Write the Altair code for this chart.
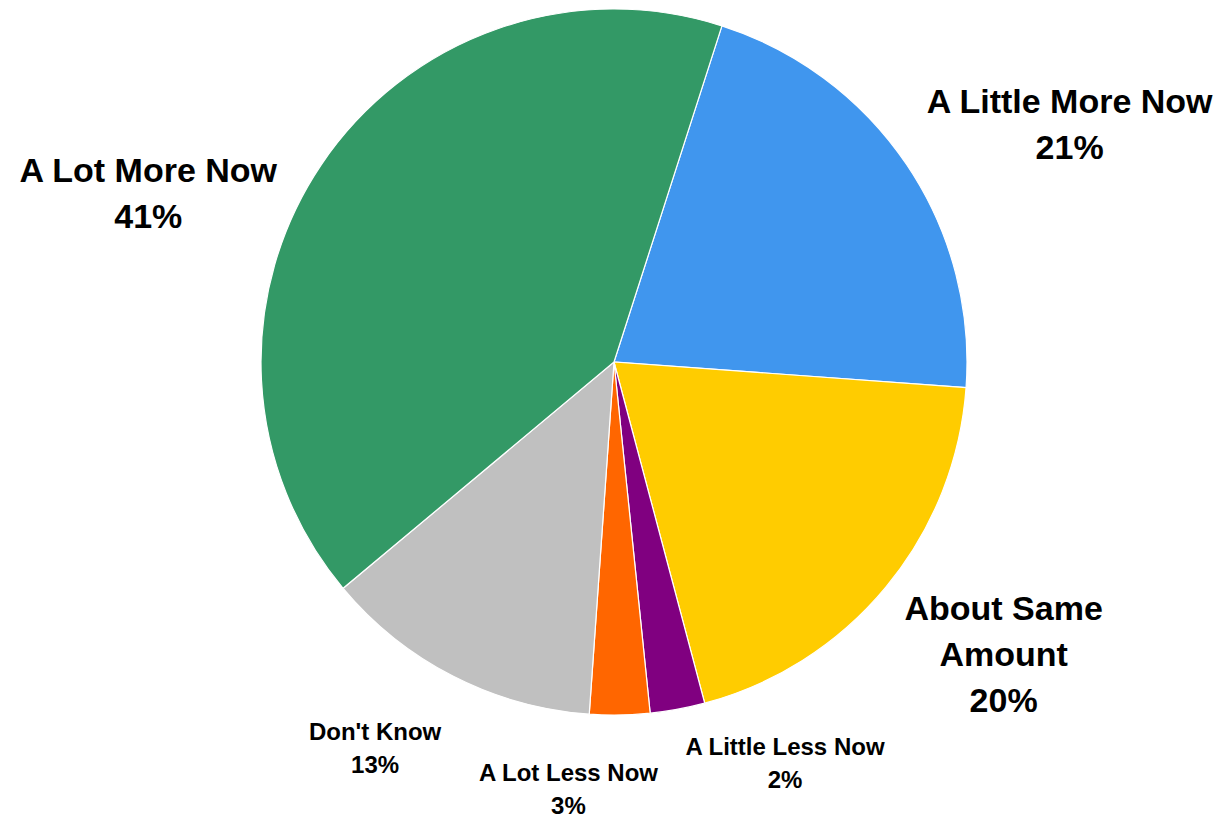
import math
import altair as alt
import pandas as pd

categories = ["A Little More Now", "About Same Amount", "A Little Less Now",
              "A Lot Less Now", "Don't Know", "A Lot More Now"]
values = [21.2, 19.7, 2.5, 2.75, 12.8, 41.0]
pct_labels = ["21%", "20%", "2%", "3%", "13%", "41%"]
colors = ["#4096EE", "#FFCC00", "#800080", "#FF6600", "#C0C0C0", "#339966"]
label_text = ["A Little More Now\n21%", "About Same\nAmount\n20%", "A Little Less Now\n2%",
              "A Lot Less Now\n3%", "Don't Know\n13%", "A Lot More Now\n41%"]
# label layout (first-line anchor: angle in degrees clockwise from top, distance from centre in px)
label_angle = [60.4, 122.5, 156.1, 186.3, 212.8, 292.2]
label_dist = [524, 462, 422, 415, 441, 503]
label_big = [True, True, False, False, False, True]

start = math.radians(17.8)

df = pd.DataFrame({
    "cat": categories,
    "value": values,
    "idx": list(range(len(categories))),
    "text": label_text,
    "lab_angle": label_angle,
    "lab_r": label_dist,
    "big": label_big,
})

pie = alt.Chart(df).mark_arc(outerRadius=353, stroke="white", strokeWidth=1.2).encode(
    theta=alt.Theta("value:Q", stack=True,
                    scale=alt.Scale(range=[start, start + 2 * math.pi])),
    color=alt.Color("cat:N", scale=alt.Scale(domain=categories, range=colors), legend=None),
    order=alt.Order("idx:Q"),
)

def label_layer(big):
    return alt.Chart(df).transform_filter(
        alt.datum.big if big else ~alt.datum.big
    ).mark_text(
        font="Liberation Sans", fontWeight="bold",
        fontSize=34 if big else 24,
        lineHeight=46 if big else 33,
        lineBreak="\n", align="center", baseline="middle", color="black",
    ).encode(
        theta=alt.Theta("lab_angle:Q", stack=None,
                        scale=alt.Scale(domain=[0, 360], range=[0, 2 * math.pi])),
        radius=alt.Radius("lab_r:Q", scale=None),
        text="text:N",
    )

chart = alt.layer(pie, label_layer(True), label_layer(False)).resolve_scale(
    theta="independent"
).properties(
    width=1206, height=708,
    autosize=alt.AutoSizeParams(type="none"),
    padding={"left": 3, "top": 0, "right": 0, "bottom": 102},
).configure_view(stroke=None)

chart.save("out.html", embed_options={"renderer": "svg", "actions": False})
